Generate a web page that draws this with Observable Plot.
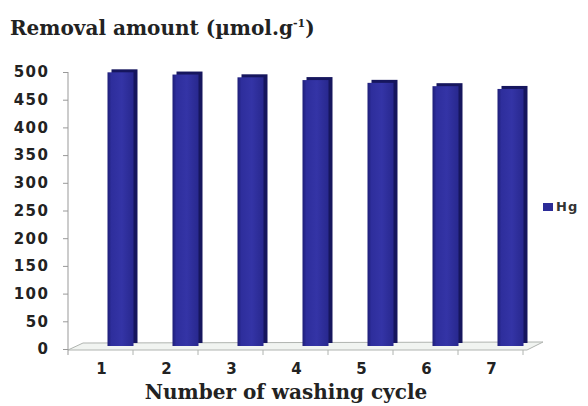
<!DOCTYPE html>
<html>
<head>
<meta charset="utf-8">
<script src="https://cdn.jsdelivr.net/npm/d3@7"></script>
<script src="https://cdn.jsdelivr.net/npm/@observablehq/plot@0.6"></script>
<style>
  html, body { margin: 0; padding: 0; background: #fff; }
  #wrap { position: relative; width: 588px; height: 406px; overflow: hidden; }
  #title { position: absolute; left: 10px; top: 16px; font: bold 20px "DejaVu Serif", serif; color: #222; white-space: nowrap; }
  #title sup { font-size: 11px; vertical-align: 8px; }
  #chart { position: absolute; left: 0; top: 56px; }
  #legend { position: absolute; left: 543px; top: 199px; font: bold 13px "DejaVu Sans", sans-serif; letter-spacing: 1px; color: #333; display: flex; align-items: center; }
  #legend .sw { display: inline-block; width: 10px; height: 8px; background: #2c2c98; margin-right: 3px; }
  #chart g[aria-label="y-axis tick label"] text { letter-spacing: 1.5px; }
</style>
</head>
<body>
<div id="wrap">
  <div id="title">Removal amount (µmol.g<sup>-1</sup>)</div>
  <div id="chart"></div>
  <div id="legend"></div>
</div>
<script>
// Hg removal capacity after each regeneration (washing) cycle
const cycles = [1, 2, 3, 4, 5, 6, 7];
const hgRemoval = [494, 490, 485, 480, 475, 469, 464];
const yTicks = [0, 50, 100, 150, 200, 250, 300, 350, 400, 450, 500];
const seriesName = "Hg";
const xTitle = "Number of washing cycle";

const rows = cycles.map((c, i) => ({cycle: c, value: hgRemoval[i]}));

const barSide = "#16165e";
const depthX = 19.5;   // bars sit back from the front edge of the floor
const depthY = -3;

const plot = Plot.plot({
  width: 588,
  height: 350,
  marginTop: 16,
  marginBottom: 57,
  marginLeft: 68,
  marginRight: 65,
  style: {fontFamily: "'DejaVu Sans', sans-serif", fontWeight: "bold", fontSize: "15px", color: "#222", background: "transparent"},
  x: {domain: cycles, paddingInner: 0.6, paddingOuter: 0.3, align: 0.5, label: null},
  y: {domain: [0, 500], label: null},
  marks: [
    Plot.axisY({ticks: yTicks, tickSize: 5, tickPadding: 14, label: null, stroke: "#999"}),
    Plot.axisX({tickSize: 0, tickPadding: 14, label: null}),
    // side / top faces, drawn behind the front faces
    Plot.barY(rows, {x: "cycle", y: "value", fill: barSide, dx: depthX + 4, dy: depthY - 3}),
    // front faces
    Plot.barY(rows, {x: "cycle", y: "value", fill: "url(#barFace)", dx: depthX, dy: depthY}),
    Plot.text([xTitle], {frameAnchor: "bottom", dy: 49, dx: -10, fontFamily: "'DejaVu Serif', serif", fontSize: 20, fontWeight: "bold", fill: "#222"})
  ]
});

const svg = d3.select(plot);
const xs = plot.scale("x");
const ys = plot.scale("y");

// gradient for the bar front faces
const defs = svg.insert("defs", ":first-child");
const grad = defs.append("linearGradient").attr("id", "barFace").attr("x1", 0).attr("x2", 1).attr("y1", 0).attr("y2", 0);
grad.append("stop").attr("offset", "0%").attr("stop-color", "#1e1e78");
grad.append("stop").attr("offset", "15%").attr("stop-color", "#2e2e9c");
grad.append("stop").attr("offset", "55%").attr("stop-color", "#3434a6");
grad.append("stop").attr("offset", "100%").attr("stop-color", "#28288e");

// floor of the 3D plot area plus the left axis line, placed beneath the bars
const x0 = xs.range[0], x1 = xs.range[1];
const step = (x1 - x0) / cycles.length;
const y0 = ys.apply(0), yTop = ys.apply(500);
const floor = svg.insert("g", "g[aria-label='bar']");
floor.append("path")
  .attr("d", `M${x0},${y0 + 1}L${x0 + 15},${y0 - 6}L${x1 + 20},${y0 - 7}L${x1 + 4},${y0 + 1}Z`)
  .attr("fill", "#f1f4f1").attr("stroke", "#b0b4b0").attr("stroke-width", 1);
floor.append("line")
  .attr("x1", x0).attr("x2", x0).attr("y1", yTop).attr("y2", y0 + 6)
  .attr("stroke", "#999");
cycles.forEach((c, i) => {
  const bx = x0 + step * (i + 1);
  floor.append("line").attr("x1", bx).attr("x2", bx).attr("y1", y0 + 1).attr("y2", y0 + 6).attr("stroke", "#b0b4b0");
});

document.getElementById("chart").appendChild(plot);

// legend
const lg = document.getElementById("legend");
lg.innerHTML = `<span class="sw"></span><span>${seriesName}</span>`;
</script>
</body>
</html>
